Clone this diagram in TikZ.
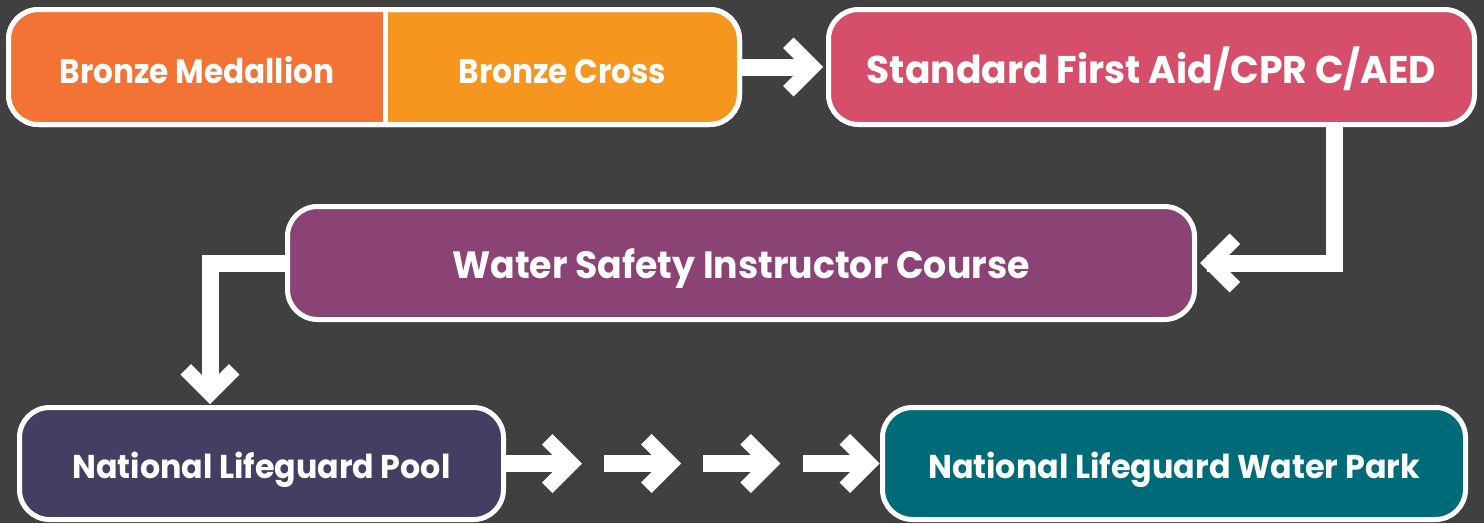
\documentclass[tikz,border=0pt]{standalone}
\usepackage{fontspec}
\usepackage{graphicx}
\setmainfont{Poppins}
\usetikzlibrary{calc}
\definecolor{bgc}{HTML}{404040}
\definecolor{medc}{HTML}{F37335}
\definecolor{crossc}{HTML}{F7961F}
\definecolor{sfac}{HTML}{D64F6A}
\definecolor{wsic}{HTML}{8A4374}
\definecolor{nlpc}{HTML}{423F62}
\definecolor{nlwc}{HTML}{006B78}
\newcommand\chevhead[2]{%
  \fill[white, shift={(#1)}, rotate=#2] (0,0) -- (-29.5,29.5) -- (-40,19) -- (-21,0) -- (-40,-19) -- (-29.5,-29.5) -- cycle;}
\newcommand\boxtext[3]{\scalebox{#2}[1]{\fontsize{#1}{#1}\selectfont\bfseries #3}}
\tikzset{
  box/.style={rectangle, draw=white, line width=5pt, rounded corners=30pt, inner sep=0pt, outer sep=2.5pt, text=white, text depth=0pt},
  lbl/.style={inner sep=0pt, text=white, anchor=base},
  shaft/.style={draw=white, line width=17pt, line join=miter, line cap=butt}
}
\begin{document}
\begin{tikzpicture}[x=1pt, y=-1pt]
\fill[bgc] (0,0) rectangle (1484,523);
\useasboundingbox (0,0) rectangle (1484,523);
% Bronze pair
\node[box, fill=crossc, minimum width=731pt, minimum height=115pt] (bronze) at (374,67) {};
\begin{scope}
  \clip (0,0) rectangle (385.8,140);
  \fill[medc, rounded corners=30pt] ($(bronze.north west)+(2.5,2.5)$) rectangle ($(bronze.south east)+(-2.5,-2.5)$);
\end{scope}
\draw[white, line width=5pt, rounded corners=30pt] ($(bronze.north west)+(2.5,2.5)$) rectangle ($(bronze.south east)+(-2.5,-2.5)$);
\draw[white, line width=5pt] (385.8,9.5) -- (385.8,124.5);
\node[lbl] (bm) at (197,83) {\boxtext{34}{0.916}{Bronze Medallion}};
\node[lbl] (bc) at (562.5,83) {\boxtext{34}{0.915}{Bronze Cross}};
% other boxes
\node[box, fill=sfac, minimum width=646pt, minimum height=115pt, text height=32pt] (sfa) at (1151.5,67) {\boxtext{38.6}{0.975}{Standard First Aid/CPR C/AED}};
\node[box, fill=wsic, minimum width=907pt, minimum height=113pt, text height=30pt] (wsi) at (741,263) {\boxtext{38}{0.955}{Water Safety Instructor Course}};
\node[box, fill=nlpc, minimum width=484pt, minimum height=112pt, text height=29pt] (nlp) at (261.5,463.5) {\boxtext{33}{0.961}{National Lifeguard Pool}};
\node[box, fill=nlwc, minimum width=583pt, minimum height=112pt, text height=29pt] (nlw) at (1174,463.5) {\boxtext{33}{0.963}{National Lifeguard Water Park}};
% arrow bronze -> sfa
\draw[shaft] (bronze.east) -- ($(sfa.west)+(-13,0)$);
\chevhead{$(sfa.west)+(-3,0)$}{0}
% sfa -> wsi
\coordinate (k1) at (1334.5,263);
\draw[shaft] (k1 |- sfa.south) -- (k1) -- ($(wsi.east)+(10,0)$);
\chevhead{$(wsi.east)+(3,0)$}{180}
% wsi -> nlp
\coordinate (k2) at (210,263);
\draw[shaft] (wsi.west) -- (k2) -- ($(k2 |- nlp.north)+(0,-10)$);
\chevhead{$(k2 |- nlp.north)+(0,-1)$}{-90}
% nlp -> nlw (four arrows)
\foreach \i in {0,1,2,3} {
  \coordinate (s\i) at ($(nlp.east)+(\i*99.2,0)+(-1,0)$);
  \coordinate (e\i) at ($(s\i)+(77,0)$);
  \draw[shaft] (s\i) -- ($(e\i)+(-10,0)$);
  \chevhead{e\i}{0}
}
\end{tikzpicture}
\end{document}
